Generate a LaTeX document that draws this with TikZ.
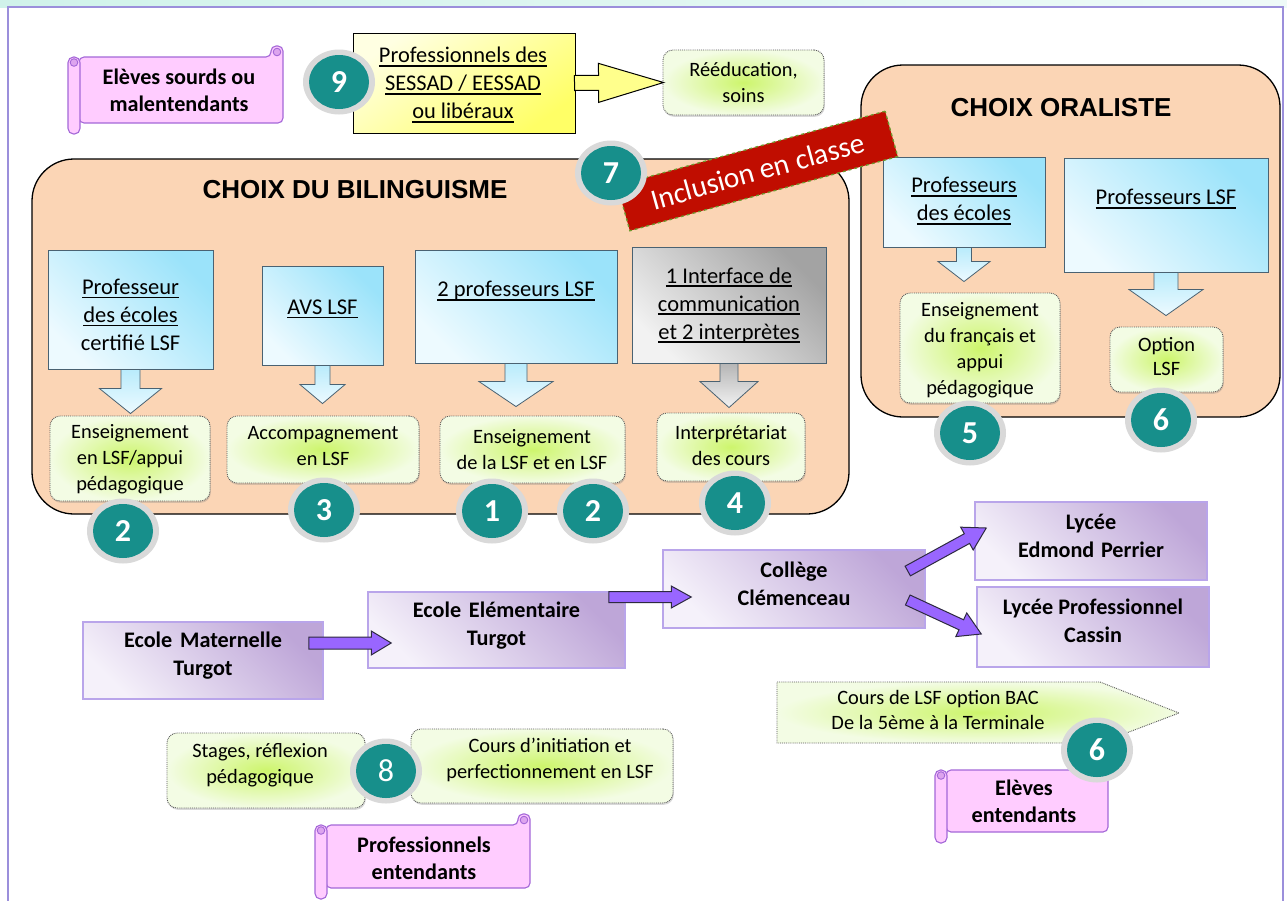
\documentclass[tikz,border=0pt]{standalone}
\usepackage{fontspec}
\setmainfont{Carlito}
\newfontfamily\arialf{Liberation Sans}
\usetikzlibrary{calc,shapes.geometric,shadows}

\definecolor{peach}{HTML}{FBD5B5}
\definecolor{bluedark}{HTML}{9BE3FA}
\definecolor{bluelight}{HTML}{EDFAFF}
\definecolor{bluebd}{HTML}{4A6272}
\definecolor{greydark}{HTML}{A3A3A3}
\definecolor{greylight}{HTML}{F2F2F2}
\definecolor{purpdark}{HTML}{BEA6D8}
\definecolor{purplight}{HTML}{F5F1FA}
\definecolor{purpbd}{HTML}{B9A5EA}
\definecolor{yellight}{HTML}{FFFFE2}
\definecolor{yeldark}{HTML}{FFFF66}
\definecolor{greenin}{HTML}{CDF56C}
\definecolor{greenout}{HTML}{F3FCE4}
\definecolor{tealc}{HTML}{178F8B}
\definecolor{ringc}{HTML}{D9D9D9}
\definecolor{bannerred}{HTML}{C00D00}
\definecolor{bannerbd}{HTML}{6E9A2E}
\definecolor{pinkc}{HTML}{FFCCFF}
\definecolor{pinkbd}{HTML}{A468D8}
\definecolor{curlc}{HTML}{DDA4EE}
\definecolor{arrowpurp}{HTML}{9966FF}
\definecolor{arrowbd}{HTML}{2E2A40}
\definecolor{mintc}{HTML}{D0F2EA}
\definecolor{framec}{HTML}{9B8FDB}

\newcommand\fsz[2]{\fontsize{#1}{#2}\selectfont}
\newsavebox\ulbox
\newcommand\ulx[1]{\sbox\ulbox{#1}\rlap{\rule[-3.6pt]{\wd\ulbox}{1.3pt}}\usebox\ulbox}

% block arrow from tail #1 to tip #2: shaft half width #3, head half width #4, head length #5, style #6
\newcommand\blockarrow[6]{%
  \path[#6] let \p1=(#1), \p2=(#2),
    \n1={veclen(\x2-\x1,\y2-\y1)},
    \n2={(\x2-\x1)/\n1}, \n3={(\y2-\y1)/\n1} in
    ({\x1-\n3*#3},{\y1+\n2*#3}) --
    ({\x2-\n2*#5-\n3*#3},{\y2-\n3*#5+\n2*#3}) --
    ({\x2-\n2*#5-\n3*#4},{\y2-\n3*#5+\n2*#4}) --
    (\p2) --
    ({\x2-\n2*#5+\n3*#4},{\y2-\n3*#5-\n2*#4}) --
    ({\x2-\n2*#5+\n3*#3},{\y2-\n3*#5-\n2*#3}) --
    ({\x1+\n3*#3},{\y1-\n2*#3}) -- cycle;}

% scroll: body L T R B
\newcommand\scrollbg[4]{%
  \filldraw[scrollst, rounded corners=5] (#1,#2) -- ({#3-12},#2) -- ({#3-12},{#2-11}) -- (#3,{#2-11}) -- (#3,#4) -- (#1,#4) -- cycle;
  \filldraw[curlst] ({#3-6},{#2-5}) circle (3.8);
  \filldraw[scrollst, rounded corners=5.5] ({#1-11},#2) rectangle ({#1+1},{#4+11});
  \filldraw[curlst] ({#1-5},{#2+5.5}) circle (3.8);}

\newcommand\badge[4][\bfseries]{%
  \node[ringst] (#2) at (#3) {};
  \node[badgein, font=#1\fsz{32}{32}] (#2n) at (#3) {#4};}

\begin{document}
\begin{tikzpicture}[x=1pt,y=-1pt,
  container/.style={draw=black, line width=1.3pt, fill=peach, rounded corners=42, inner sep=0},
  titletxt/.style={font=\arialf\bfseries\fsz{26}{28}, inner sep=0},
  bluebox/.style={draw=bluebd, line width=0.8pt, top color=bluedark, bottom color=bluelight, shading angle=-45, inner sep=0},
  greybox/.style={draw=bluebd, line width=0.8pt, top color=greydark, bottom color=greylight, shading angle=-45, inner sep=0},
  bluetxt/.style={font=\fsz{22.5}{28}, align=center, inner sep=0},
  greenbox/.style={draw=black!65, densely dotted, line width=0.9pt, rounded corners=10, inner color=greenin, outer color=greenout, inner sep=0,
     drop shadow={opacity=0.3, shadow xshift=0.8pt, shadow yshift=-1.8pt}},
  greentxt/.style={font=\fsz{20.4}{26}, align=center, inner sep=0},
  yellowbox/.style={draw=black, line width=1pt, top color=yellight, bottom color=yeldark, shading angle=35, inner sep=0},
  yellowtxt/.style={font=\fsz{22.4}{28}, align=center, inner sep=0},
  yarrow/.style={draw=black, line width=1pt, fill=yeldark!75!white},
  barrow/.style={draw=bluebd, line width=0.8pt, top color=bluedark!70!white, bottom color=bluelight},
  garrow/.style={draw=bluebd, line width=0.8pt, top color=greydark!80!white, bottom color=greylight},
  purplebox/.style={draw=purpbd, line width=1.5pt, top color=purpdark, bottom color=purplight, shading angle=-45, inner sep=0},
  purpletxt/.style={font=\bfseries\fsz{22.2}{28}, align=center, inner sep=0},
  parrow/.style={draw=arrowbd, line width=1pt, fill=arrowpurp},
  scrollst/.style={draw=pinkbd, line width=1.1pt, fill=pinkc},
  curlst/.style={draw=pinkbd, line width=0.9pt, fill=curlc},
  scrolltxt/.style={font=\bfseries\fsz{22.2}{27}, align=center, inner sep=0},
  ringst/.style={ellipse, fill=ringc, minimum width=72, minimum height=65, inner sep=0},
  badgein/.style={ellipse, fill=tealc, minimum width=60, minimum height=54, inner sep=0, text=white},
  banner/.style={draw=bannerbd, dashed, line width=1.3pt, fill=bannerred, text=white, font=\fsz{29.3}{30}, inner sep=0}
]
\useasboundingbox (0,0) rectangle (1287,900);
\clip (0,0) rectangle (1287,900);
\fill[white] (0,0) rectangle (1287,900);
\shade[left color=mintc, right color=mintc!35] (0,0) rectangle (1287,7);
\draw[framec, line width=1.2pt] (8,910) -- (8,7) -- (1283,7) -- (1283,910);

% containers
\node[container, minimum width=817, minimum height=355] (bil) at (440.5,336.5) {};
\node[container, minimum width=419, minimum height=352] (ora) at (1070.5,241) {};
\node[titletxt] (tbil) at (355,190) {CHOIX DU BILINGUISME};
\node[titletxt] (tora) at (1061,108) {CHOIX ORALISTE};

% blue boxes
\node[bluebox, minimum width=165, minimum height=119] (b1) at (130.5,309.5) {};
\node[bluetxt] (b1t) at (130.5,315) {\ulx{Professeur}\\\ulx{des écoles}\\certifié LSF};
\node[bluebox, minimum width=121, minimum height=99] (b2) at (322.5,315.5) {};
\node[bluetxt] (b2t) at (322.5,309) {\ulx{AVS LSF}};
\node[bluebox, minimum width=202, minimum height=113] (b3) at (516,306.5) {};
\node[bluetxt] (b3t) at (516,291) {\ulx{2 professeurs LSF}};
\node[greybox, minimum width=194, minimum height=116] (b4) at (729,305) {};
\node[bluetxt] (b4t) at (729,305) {\ulx{1 Interface de}\\\ulx{communication}\\\ulx{et 2 interprètes}};
\node[bluebox, minimum width=162, minimum height=90] (b5) at (964,202) {};
\node[bluetxt] (b5t) at (964,201) {\ulx{Professeurs}\\\ulx{des écoles}};
\node[bluebox, minimum width=204, minimum height=114] (b6) at (1166,215) {};
\node[bluetxt] (b6t) at (1166,199) {\ulx{Professeurs LSF}};

% green boxes
\node[greenbox, minimum width=160, minimum height=85] (g1) at (130,458.5) {};
\node[greentxt] (g1t) at (130,459) {Enseignement\\en LSF/appui\\pédagogique};
\node[greenbox, minimum width=192, minimum height=67] (g2) at (323,449.5) {};
\node[greentxt] (g2t) at (323,446) {Accompagnement\\en LSF};
\node[greenbox, minimum width=185, minimum height=67] (g3) at (532.5,449.5) {};
\node[greentxt] (g3t) at (532,450) {Enseignement\\de la LSF et en LSF};
\node[greenbox, minimum width=148, minimum height=68] (g4) at (731,447) {};
\node[greentxt] (g4t) at (731,445.5) {Interprétariat\\des cours};
\node[greenbox, minimum width=160, minimum height=110] (g5) at (980,348) {};
\node[greentxt] (g5t) at (980,350) {Enseignement\\du français et\\appui\\pédagogique};
\node[greenbox, minimum width=113, minimum height=65] (g6) at (1166.5,359.5) {};
\node[greentxt, font=\fsz{20.4}{24}] (g6t) at (1166.5,357) {Option\\LSF};

% down arrows
\blockarrow{b1.south}{$(b1.south |- g1.north)+(0,-2)$}{9.5}{31}{25}{barrow}
\blockarrow{b2.south}{$(b2.south |- g2.north)+(0,-12)$}{7.5}{22.5}{19}{barrow}
\blockarrow{b3.south}{$(b3.south |- g3.north)+(0,-9)$}{11}{37}{25}{barrow}
\blockarrow{b4.south}{$(b4.south |- g4.north)+(0,-5)$}{9}{29}{26}{garrow}
\blockarrow{b5.south}{$(b5.south |- g5.north)+(0,-11)$}{7.5}{26}{20}{barrow}
\blockarrow{b6.south}{$(b6.south |- g6.north)+(0,-11)$}{12}{37}{26}{barrow}

% top: SESSAD
\node[greenbox, minimum width=161, minimum height=65] (g7) at (743.5,82.5) {};
\node[greentxt] (g7t) at (743.5,82.5) {Rééducation,\\soins};
\node[yellowbox, minimum width=222, minimum height=100] (y1) at (464,83) {};
\node[yellowtxt] (y1t) at (463,85) {\ulx{Professionnels des}\\\ulx{SESSAD / EESSAD}\\\ulx{ou libéraux}};
\blockarrow{$(y1.east)+(-1,0)$}{$(g7.west)+(1,0)$}{7.5}{19.5}{65}{yarrow}

% school path
\node[purplebox, minimum width=240, minimum height=77] (mat) at (203,660.5) {};
\node[purpletxt] (matt) at (203,655.5) {Ecole\hspace{0.35em}Maternelle\\Turgot};
\node[purplebox, minimum width=257, minimum height=76] (ele) at (496.5,630) {};
\node[purpletxt] (elet) at (496.5,625.5) {Ecole\hspace{0.35em}Elémentaire\\Turgot};
\node[purplebox, minimum width=262, minimum height=78] (col) at (794,589) {};
\node[purpletxt] (colt) at (794,584) {Collège\\Clémenceau};
\node[purplebox, minimum width=232, minimum height=78] (lep) at (1091,541) {};
\node[purpletxt] (lept) at (1091,536) {Lycée\\Edmond\hspace{0.3em}Perrier};
\node[purplebox, minimum width=232, minimum height=80] (lpr) at (1093,627) {};
\node[purpletxt] (lprt) at (1093,621) {Lycée Professionnel\\Cassin};
\blockarrow{$(mat.east)+(-15,-17.5)$}{$(ele.west)+(24,13)$}{6}{12}{20}{parrow}
\blockarrow{$(ele.east)+(-17,-33)$}{$(col.west)+(29,8)$}{5.5}{11}{20}{parrow}
\blockarrow{$(col.east)+(-18,-18)$}{$(lep.west)+(12,-13)$}{5.5}{13}{22}{parrow}
\blockarrow{$(col.east)+(-18,11)$}{$(lpr.west)+(5,7)$}{5.5}{13}{22}{parrow}

% BAC option
\path[draw=black!65, densely dotted, line width=0.9pt, inner color=greenin, outer color=greenout]
  (777,682) -- (1100,682) -- (1179,713) -- (1100,743) -- (777,743) -- cycle;
\node[greentxt, font=\fsz{20.4}{25}] (bac) at (938,709.5) {Cours de LSF option BAC\\De la 5ème à la Terminale};

% training
\node[greenbox, minimum width=198, minimum height=75] (g8) at (266,770.5) {};
\node[greentxt] (g8t) at (260,765) {Stages, réflexion\\pédagogique};
\node[greenbox, minimum width=262, minimum height=74] (g9) at (542,766) {};
\node[greentxt] (g9t) at (550,760) {Cours d’initiation et\\perfectionnement en LSF};

% scrolls
\scrollbg{79}{57}{283}{123}
\node[scrolltxt] (s1) at (179,90.5) {Elèves sourds ou\\malentendants};
\scrollbg{946}{770}{1108}{832}
\node[scrolltxt] (s2) at (1024,801) {Elèves\\entendants};
\scrollbg{326}{825}{530}{888}
\node[scrolltxt] (s3) at (424,858) {Professionnels\\entendants};

% banner
\node[banner, rotate=15.5, minimum width=278, minimum height=47] (incl) at (757.5,171) {Inclusion en classe};

% badges
\badge{k9}{339,82}{9}
\badge{k7}{611,173}{7}
\badge{k2a}{123,531}{2}
\badge{k3}{324,510}{3}
\badge{k1}{492,511}{1}
\badge{k2b}{593,511}{2}
\badge{k4}{735,503}{4}
\badge{k5}{970,433}{5}
\badge{k6a}{1161,420}{6}
\badge{k6b}{1097,750}{6}
\badge[\mdseries]{k8}{386,771}{8}
\end{tikzpicture}
\end{document}
